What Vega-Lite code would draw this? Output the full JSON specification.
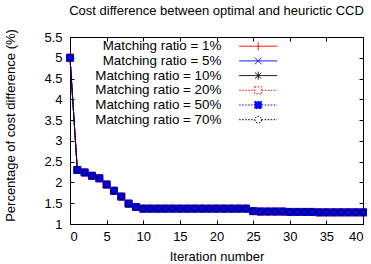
{
  "$schema": "https://vega.github.io/schema/vega-lite/v6.json",
  "width": 293,
  "height": 187,
  "autosize": "none",
  "padding": {"left": 70, "top": 37, "right": 8, "bottom": 40},
  "background": "white",
  "title": {"text": "Cost difference between optimal and heurictic CCD", "anchor": "middle", "font": "Liberation Sans", "fontSize": 13, "fontWeight": "normal", "color": "black", "offset": 11},
  "config": {
    "view": {"stroke": "black", "strokeWidth": 1},
    "axis": {"domainColor": "black", "tickColor": "black", "labelColor": "black", "titleColor": "black", "labelFont": "Liberation Sans", "titleFont": "Liberation Sans", "labelFontSize": 13, "titleFontSize": 13, "titleFontWeight": "normal", "grid": false, "tickSize": -4, "domainWidth": 1, "tickWidth": 1},
    "legend": {"labelFont": "Arial", "labelFontSize": 13.4, "labelColor": "black"}
  },
  "datasets": {
    "cost": [
      {"i":0,"s":"1%","v":5.0},{"i":1,"s":"1%","v":2.30},{"i":2,"s":"1%","v":2.24},{"i":3,"s":"1%","v":2.16},{"i":4,"s":"1%","v":2.10},{"i":5,"s":"1%","v":1.95},{"i":6,"s":"1%","v":1.80},{"i":7,"s":"1%","v":1.66},{"i":8,"s":"1%","v":1.49},{"i":9,"s":"1%","v":1.41},{"i":10,"s":"1%","v":1.37},{"i":11,"s":"1%","v":1.37},{"i":12,"s":"1%","v":1.37},{"i":13,"s":"1%","v":1.37},{"i":14,"s":"1%","v":1.37},{"i":15,"s":"1%","v":1.37},{"i":16,"s":"1%","v":1.37},{"i":17,"s":"1%","v":1.37},{"i":18,"s":"1%","v":1.37},{"i":19,"s":"1%","v":1.37},{"i":20,"s":"1%","v":1.37},{"i":21,"s":"1%","v":1.37},{"i":22,"s":"1%","v":1.37},{"i":23,"s":"1%","v":1.37},{"i":24,"s":"1%","v":1.37},{"i":25,"s":"1%","v":1.31},{"i":26,"s":"1%","v":1.30},{"i":27,"s":"1%","v":1.30},{"i":28,"s":"1%","v":1.30},{"i":29,"s":"1%","v":1.30},{"i":30,"s":"1%","v":1.29},{"i":31,"s":"1%","v":1.29},{"i":32,"s":"1%","v":1.29},{"i":33,"s":"1%","v":1.29},{"i":34,"s":"1%","v":1.28},{"i":35,"s":"1%","v":1.28},{"i":36,"s":"1%","v":1.28},{"i":37,"s":"1%","v":1.28},{"i":38,"s":"1%","v":1.28},{"i":39,"s":"1%","v":1.28},{"i":40,"s":"1%","v":1.28},
      {"i":0,"s":"5%","v":5.0},{"i":1,"s":"5%","v":2.30},{"i":2,"s":"5%","v":2.24},{"i":3,"s":"5%","v":2.16},{"i":4,"s":"5%","v":2.10},{"i":5,"s":"5%","v":1.95},{"i":6,"s":"5%","v":1.80},{"i":7,"s":"5%","v":1.66},{"i":8,"s":"5%","v":1.49},{"i":9,"s":"5%","v":1.41},{"i":10,"s":"5%","v":1.37},{"i":11,"s":"5%","v":1.37},{"i":12,"s":"5%","v":1.37},{"i":13,"s":"5%","v":1.37},{"i":14,"s":"5%","v":1.37},{"i":15,"s":"5%","v":1.37},{"i":16,"s":"5%","v":1.37},{"i":17,"s":"5%","v":1.37},{"i":18,"s":"5%","v":1.37},{"i":19,"s":"5%","v":1.37},{"i":20,"s":"5%","v":1.37},{"i":21,"s":"5%","v":1.37},{"i":22,"s":"5%","v":1.37},{"i":23,"s":"5%","v":1.37},{"i":24,"s":"5%","v":1.37},{"i":25,"s":"5%","v":1.31},{"i":26,"s":"5%","v":1.30},{"i":27,"s":"5%","v":1.30},{"i":28,"s":"5%","v":1.30},{"i":29,"s":"5%","v":1.30},{"i":30,"s":"5%","v":1.29},{"i":31,"s":"5%","v":1.29},{"i":32,"s":"5%","v":1.29},{"i":33,"s":"5%","v":1.29},{"i":34,"s":"5%","v":1.28},{"i":35,"s":"5%","v":1.28},{"i":36,"s":"5%","v":1.28},{"i":37,"s":"5%","v":1.28},{"i":38,"s":"5%","v":1.28},{"i":39,"s":"5%","v":1.28},{"i":40,"s":"5%","v":1.28},
      {"i":0,"s":"10%","v":5.0},{"i":1,"s":"10%","v":2.30},{"i":2,"s":"10%","v":2.24},{"i":3,"s":"10%","v":2.16},{"i":4,"s":"10%","v":2.10},{"i":5,"s":"10%","v":1.95},{"i":6,"s":"10%","v":1.80},{"i":7,"s":"10%","v":1.66},{"i":8,"s":"10%","v":1.49},{"i":9,"s":"10%","v":1.41},{"i":10,"s":"10%","v":1.37},{"i":11,"s":"10%","v":1.37},{"i":12,"s":"10%","v":1.37},{"i":13,"s":"10%","v":1.37},{"i":14,"s":"10%","v":1.37},{"i":15,"s":"10%","v":1.37},{"i":16,"s":"10%","v":1.37},{"i":17,"s":"10%","v":1.37},{"i":18,"s":"10%","v":1.37},{"i":19,"s":"10%","v":1.37},{"i":20,"s":"10%","v":1.37},{"i":21,"s":"10%","v":1.37},{"i":22,"s":"10%","v":1.37},{"i":23,"s":"10%","v":1.37},{"i":24,"s":"10%","v":1.37},{"i":25,"s":"10%","v":1.31},{"i":26,"s":"10%","v":1.30},{"i":27,"s":"10%","v":1.30},{"i":28,"s":"10%","v":1.30},{"i":29,"s":"10%","v":1.30},{"i":30,"s":"10%","v":1.29},{"i":31,"s":"10%","v":1.29},{"i":32,"s":"10%","v":1.29},{"i":33,"s":"10%","v":1.29},{"i":34,"s":"10%","v":1.28},{"i":35,"s":"10%","v":1.28},{"i":36,"s":"10%","v":1.28},{"i":37,"s":"10%","v":1.28},{"i":38,"s":"10%","v":1.28},{"i":39,"s":"10%","v":1.28},{"i":40,"s":"10%","v":1.28},
      {"i":0,"s":"20%","v":5.0},{"i":1,"s":"20%","v":2.30},{"i":2,"s":"20%","v":2.24},{"i":3,"s":"20%","v":2.16},{"i":4,"s":"20%","v":2.10},{"i":5,"s":"20%","v":1.95},{"i":6,"s":"20%","v":1.80},{"i":7,"s":"20%","v":1.66},{"i":8,"s":"20%","v":1.49},{"i":9,"s":"20%","v":1.41},{"i":10,"s":"20%","v":1.37},{"i":11,"s":"20%","v":1.37},{"i":12,"s":"20%","v":1.37},{"i":13,"s":"20%","v":1.37},{"i":14,"s":"20%","v":1.37},{"i":15,"s":"20%","v":1.37},{"i":16,"s":"20%","v":1.37},{"i":17,"s":"20%","v":1.37},{"i":18,"s":"20%","v":1.37},{"i":19,"s":"20%","v":1.37},{"i":20,"s":"20%","v":1.37},{"i":21,"s":"20%","v":1.37},{"i":22,"s":"20%","v":1.37},{"i":23,"s":"20%","v":1.37},{"i":24,"s":"20%","v":1.37},{"i":25,"s":"20%","v":1.31},{"i":26,"s":"20%","v":1.30},{"i":27,"s":"20%","v":1.30},{"i":28,"s":"20%","v":1.30},{"i":29,"s":"20%","v":1.30},{"i":30,"s":"20%","v":1.29},{"i":31,"s":"20%","v":1.29},{"i":32,"s":"20%","v":1.29},{"i":33,"s":"20%","v":1.29},{"i":34,"s":"20%","v":1.28},{"i":35,"s":"20%","v":1.28},{"i":36,"s":"20%","v":1.28},{"i":37,"s":"20%","v":1.28},{"i":38,"s":"20%","v":1.28},{"i":39,"s":"20%","v":1.28},{"i":40,"s":"20%","v":1.28},
      {"i":0,"s":"50%","v":5.0},{"i":1,"s":"50%","v":2.30},{"i":2,"s":"50%","v":2.24},{"i":3,"s":"50%","v":2.16},{"i":4,"s":"50%","v":2.10},{"i":5,"s":"50%","v":1.95},{"i":6,"s":"50%","v":1.80},{"i":7,"s":"50%","v":1.66},{"i":8,"s":"50%","v":1.49},{"i":9,"s":"50%","v":1.41},{"i":10,"s":"50%","v":1.37},{"i":11,"s":"50%","v":1.37},{"i":12,"s":"50%","v":1.37},{"i":13,"s":"50%","v":1.37},{"i":14,"s":"50%","v":1.37},{"i":15,"s":"50%","v":1.37},{"i":16,"s":"50%","v":1.37},{"i":17,"s":"50%","v":1.37},{"i":18,"s":"50%","v":1.37},{"i":19,"s":"50%","v":1.37},{"i":20,"s":"50%","v":1.37},{"i":21,"s":"50%","v":1.37},{"i":22,"s":"50%","v":1.37},{"i":23,"s":"50%","v":1.37},{"i":24,"s":"50%","v":1.37},{"i":25,"s":"50%","v":1.31},{"i":26,"s":"50%","v":1.30},{"i":27,"s":"50%","v":1.30},{"i":28,"s":"50%","v":1.30},{"i":29,"s":"50%","v":1.30},{"i":30,"s":"50%","v":1.29},{"i":31,"s":"50%","v":1.29},{"i":32,"s":"50%","v":1.29},{"i":33,"s":"50%","v":1.29},{"i":34,"s":"50%","v":1.28},{"i":35,"s":"50%","v":1.28},{"i":36,"s":"50%","v":1.28},{"i":37,"s":"50%","v":1.28},{"i":38,"s":"50%","v":1.28},{"i":39,"s":"50%","v":1.28},{"i":40,"s":"50%","v":1.28},
      {"i":0,"s":"70%","v":5.0},{"i":1,"s":"70%","v":2.30},{"i":2,"s":"70%","v":2.24},{"i":3,"s":"70%","v":2.16},{"i":4,"s":"70%","v":2.10},{"i":5,"s":"70%","v":1.95},{"i":6,"s":"70%","v":1.80},{"i":7,"s":"70%","v":1.66},{"i":8,"s":"70%","v":1.49},{"i":9,"s":"70%","v":1.41},{"i":10,"s":"70%","v":1.37},{"i":11,"s":"70%","v":1.37},{"i":12,"s":"70%","v":1.37},{"i":13,"s":"70%","v":1.37},{"i":14,"s":"70%","v":1.37},{"i":15,"s":"70%","v":1.37},{"i":16,"s":"70%","v":1.37},{"i":17,"s":"70%","v":1.37},{"i":18,"s":"70%","v":1.37},{"i":19,"s":"70%","v":1.37},{"i":20,"s":"70%","v":1.37},{"i":21,"s":"70%","v":1.37},{"i":22,"s":"70%","v":1.37},{"i":23,"s":"70%","v":1.37},{"i":24,"s":"70%","v":1.37},{"i":25,"s":"70%","v":1.31},{"i":26,"s":"70%","v":1.30},{"i":27,"s":"70%","v":1.30},{"i":28,"s":"70%","v":1.30},{"i":29,"s":"70%","v":1.30},{"i":30,"s":"70%","v":1.29},{"i":31,"s":"70%","v":1.29},{"i":32,"s":"70%","v":1.29},{"i":33,"s":"70%","v":1.29},{"i":34,"s":"70%","v":1.28},{"i":35,"s":"70%","v":1.28},{"i":36,"s":"70%","v":1.28},{"i":37,"s":"70%","v":1.28},{"i":38,"s":"70%","v":1.28},{"i":39,"s":"70%","v":1.28},{"i":40,"s":"70%","v":1.28}
    ]
  },
  "data": {"name": "cost"},
  "resolve": {
    "scale": {"stroke": "independent", "strokeDash": "independent", "shape": "independent", "fill": "independent"},
    "axis": {"x": "independent", "y": "independent"}
  },
  "layer": [
    {
      "mark": {"type": "line", "strokeWidth": 1},
      "encoding": {
        "x": {"field": "i", "type": "quantitative", "scale": {"domain": [0, 40], "nice": false, "zero": false}, "axis": {"orient": "bottom", "values": [0,5,10,15,20,25,30,35,40], "title": "Iteration number", "labelPadding": 10.5, "titleBaseline": "top", "titleY": 26}},
        "y": {"field": "v", "type": "quantitative", "scale": {"domain": [1, 5.5], "nice": false, "zero": false}, "axis": {"orient": "left", "values": [1,1.5,2,2.5,3,3.5,4,4.5,5,5.5], "format": "~g", "title": "Percentage of cost difference (%)", "labelPadding": 12, "titleX": -59.5, "titleY": 88, "titleBaseline": "middle"}},
        "stroke": {"field": "s", "type": "nominal", "scale": {"domain": ["1%","5%","10%","20%","50%","70%"], "range": ["#ff0000","#0000ff","#000000","#ff0000","#0000ff","#000000"]}, "legend": null},
        "strokeDash": {"field": "s", "type": "nominal", "scale": {"domain": ["1%","5%","10%","20%","50%","70%"], "range": [[1,0],[1,0],[1,0],[1.5,1.5],[1.5,1.5],[1.5,1.5]]}, "legend": null}
      }
    },
    {
      "mark": {"type": "point", "size": 49, "strokeWidth": 1, "opacity": 1},
      "encoding": {
        "x": {"field": "i", "type": "quantitative", "scale": {"domain": [0, 40], "nice": false, "zero": false}, "axis": {"orient": "top", "values": [0,5,10,15,20,25,30,35,40], "labels": false, "title": null, "domain": false}},
        "y": {"field": "v", "type": "quantitative", "scale": {"domain": [1, 5.5], "nice": false, "zero": false}, "axis": {"orient": "right", "values": [1,1.5,2,2.5,3,3.5,4,4.5,5,5.5], "labels": false, "title": null, "domain": false}},
        "stroke": {"field": "s", "type": "nominal", "scale": {"domain": ["1%","5%","10%","20%","50%","70%"], "range": ["#ff0000","#0000ff","#000000","#ff0000","#0000ff","#000000"]}, "legend": null},
        "fill": {"field": "s", "type": "nominal", "scale": {"domain": ["1%","5%","10%","20%","50%","70%"], "range": ["transparent","transparent","transparent","transparent","#0000ff","transparent"]}, "legend": null},
        "shape": {"field": "s", "type": "nominal", "scale": {"domain": ["1%","5%","10%","20%","50%","70%"], "range": ["M-1,0H1M0,-1V1", "M-0.8,-0.8L0.8,0.8M-0.8,0.8L0.8,-0.8", "M-1,0H1M0,-1V1M-0.7,-0.7L0.7,0.7M-0.7,0.7L0.7,-0.7", "square", "square", "M0.85,0A0.85,0.85,0,1,1,-0.85,0A0.85,0.85,0,1,1,0.85,0Z"]}, "legend": null}
      }
    },
    {
      "transform": [{"filter": "datum.i < 0"}],
      "mark": {"type": "point", "strokeWidth": 1, "opacity": 1},
      "encoding": {
        "x": {"field": "i", "type": "quantitative", "axis": null},
        "y": {"field": "v", "type": "quantitative", "axis": null},
        "stroke": {"field": "s", "type": "nominal", "scale": {"domain": ["1%","5%","10%","20%","50%","70%"], "range": ["#ff0000","#0000ff","#000000","#ff0000","#0000ff","#000000"]}, "legend": {"title": null, "orient": "none", "legendX": 219.5, "legendY": 2.5, "padding": 0, "symbolSize": 64, "symbolOffset": -38, "labelAlign": "right", "labelOffset": -43.5, "rowPadding": -0.3, "labelFont": "Arial", "labelFontSize": 13.4, "labelColor": "black", "labelLimit": 300, "labelExpr": "'Matching ratio = ' + datum.label", "symbolStrokeWidth": 1}},
        "fill": {"field": "s", "type": "nominal", "scale": {"domain": ["1%","5%","10%","20%","50%","70%"], "range": ["transparent","transparent","transparent","transparent","#0000ff","transparent"]}},
        "strokeDash": {"field": "s", "type": "nominal", "scale": {"domain": ["1%","5%","10%","20%","50%","70%"], "range": [[1,0],[1,0],[1,0],[1.5,1.5],[1.5,1.5],[1.5,1.5]]}},
        "shape": {"field": "s", "type": "nominal", "scale": {"domain": ["1%","5%","10%","20%","50%","70%"], "range": [
          "M-4.75,0H4.75M0,-1V1",
          "M-4.75,0H4.75M-0.85,-0.85L0.85,0.85M-0.85,0.85L0.85,-0.85",
          "M-4.75,0H4.75M0,-1V1M-0.75,-0.75L0.75,0.75M-0.75,0.75L0.75,-0.75",
          "M-4.75,0H-0.875M0.875,0H4.75M-0.875,-0.875H0.875V0.875H-0.875Z",
          "M-4.75,0H-0.875M0.875,0H4.75M-0.875,-0.875H0.875V0.875H-0.875Z",
          "M-4.75,0H-0.85M0.85,0H4.75M0.85,0A0.85,0.85,0,1,1,-0.85,0A0.85,0.85,0,1,1,0.85,0Z"
        ]}}
      }
    }
  ]
}
